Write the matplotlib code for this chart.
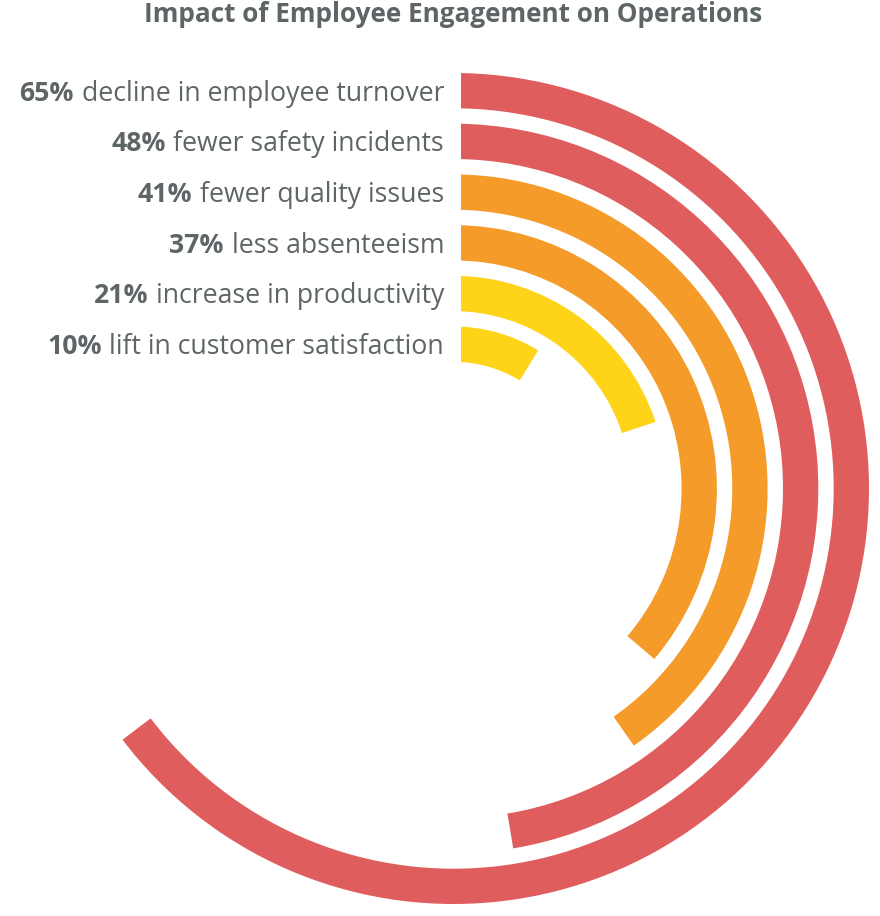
import matplotlib
matplotlib.use('Agg')
import matplotlib.pyplot as plt
from matplotlib.patches import Wedge, Polygon

title = "Impact of Employee Engagement on Operations"
values = [65, 48, 41, 37, 21, 10]
pct_labels = ["65%", "48%", "41%", "37%", "21%", "10%"]
descriptions = ["decline in employee turnover", "fewer safety incidents",
                "fewer quality issues", "less absenteeism",
                "increase in productivity", "lift in customer satisfaction"]
colors = ["#E05D5D", "#E05D5D", "#F49B29", "#F49B29", "#FED318", "#FED318"]

GRAY = "#5E6566"
FONT = "Open Sans"

fig = plt.figure(figsize=(8.8, 9.16), dpi=100)
ax = fig.add_axes([0, 0, 1, 1])
ax.set_xlim(0, 880)
ax.set_ylim(916, 0)
ax.axis('off')

cx, cy = 453.5, 488.5
outer0, step, width = 415.5, 50.7, 35.3
deg_per_pct, deg_offset = 3.66, -5.1
x_start = 461

clip = Polygon([(x_start, 0), (880, 0), (880, 916), (0, 916), (0, cy), (x_start, cy)],
               closed=True)
clip.set_transform(ax.transData)

for i, (v, c) in enumerate(zip(values, colors)):
    r = outer0 - i * step
    ang = v * deg_per_pct + deg_offset
    w = Wedge((cx, cy), r, -90, -90 + ang, width=width, facecolor=c,
              edgecolor='none', antialiased=True)
    ax.add_patch(w)
    w.set_clip_path(clip)

ax.text(453, 21.5, title, ha='center', va='baseline', fontsize=18.8,
        fontweight='bold', color=GRAY, family=FONT)

renderer = fig.canvas.get_renderer()
fs = 19.2
for i, (p, d) in enumerate(zip(pct_labels, descriptions)):
    r = outer0 - i * step
    yb = cy - (r - width / 2) + 10
    t = ax.text(444, yb, d, ha='right', va='baseline', fontsize=fs,
                color=GRAY, family=FONT)
    bb = t.get_window_extent(renderer)
    x_left = ax.transData.inverted().transform((bb.x0, bb.y0))[0]
    ax.text(x_left - 7.5, yb, p, ha='right', va='baseline', fontsize=fs,
            fontweight='bold', color=GRAY, family=FONT)

fig.savefig("out.png", dpi=100, facecolor='white')
